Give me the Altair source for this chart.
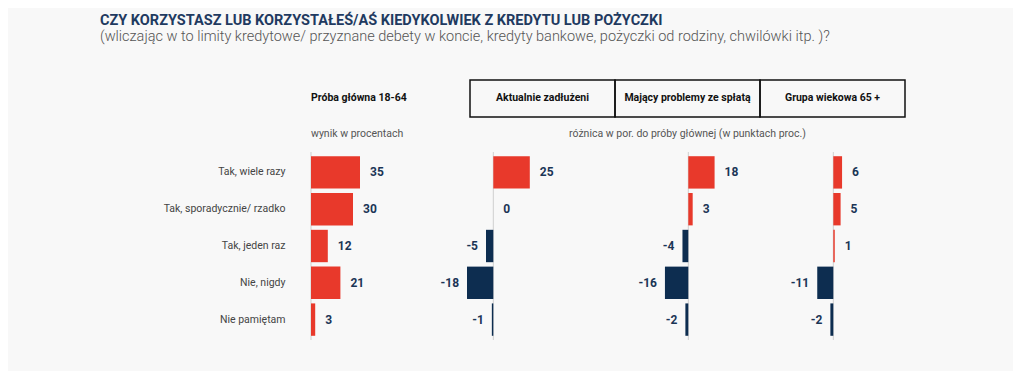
import altair as alt
import pandas as pd

categories = ["Tak, wiele razy", "Tak, sporadycznie/ rzadko", "Tak, jeden raz", "Nie, nigdy", "Nie pamiętam"]
main_values = [35, 30, 12, 21, 3]
debt_diff = [25, 0, -5, -18, -1]
problem_diff = [18, 3, -4, -16, -2]
age65_diff = [6, 5, 1, -11, -2]

title_text = "CZY KORZYSTASZ LUB KORZYSTAŁEŚ/AŚ KIEDYKOLWIEK Z KREDYTU LUB POŻYCZKI"
subtitle_text = ("(wliczając w to limity kredytowe/ przyznane debety w koncie, kredyty bankowe, "
                 "pożyczki od rodziny, chwilówki itp. )?")
panel_titles = ["Próba główna 18-64", "Aktualnie zadłużeni", "Mający problemy ze spłatą", "Grupa wiekowa 65 +"]
left_note = "wynik w procentach"
diff_note = "różnica w por. do próby głównej (w punktach proc.)"

RED = "#e8392b"
NAVY = "#0d2d50"
LABEL = "#1b3556"
FONT = "Roboto"
H = 184

one = pd.DataFrame({"k": [0]})


def txt(s, x, y, size=10, weight="normal", color="#111111", align="left", baseline="middle"):
    return alt.Chart(one).mark_text(
        text=s, align=align, baseline=baseline, fontSize=size, fontWeight=weight,
        color=color, font=FONT
    ).encode(x=alt.value(x), y=alt.value(y))


def panel(values, domain, width, idx):
    df = pd.DataFrame({"cat": categories, "val": values})
    base = alt.Chart(df).transform_calculate(lbl="'' + datum.val")
    scale = alt.Scale(domain=domain, nice=False, zero=False)
    if idx == 0:
        yaxis = alt.Axis(title=None, domain=False, ticks=False, labelPadding=26,
                         labelFontSize=10.5, labelColor="#444444", labelFont=FONT, labelLimit=300)
    else:
        yaxis = None
    y = alt.Y("cat:N", sort=categories,
              scale=alt.Scale(paddingInner=0.12, paddingOuter=0.06), axis=yaxis)
    x = alt.X("val:Q", scale=scale, axis=None)
    bars = base.mark_bar().encode(
        x=x, x2=alt.datum(0), y=y,
        color=alt.condition(alt.datum.val >= 0, alt.value(RED), alt.value(NAVY)),
    )
    pos = base.transform_filter(alt.datum.val >= 0).mark_text(
        align="left", baseline="middle", dx=10, fontSize=12, fontWeight="bold", color=LABEL, font=FONT
    ).encode(x=x, y=y, text="lbl:N")
    neg = base.transform_filter(alt.datum.val < 0).mark_text(
        align="right", baseline="middle", dx=-8, fontSize=12, fontWeight="bold", color=LABEL, font=FONT
    ).encode(x=x, y=y, text="lbl:N")
    rule = alt.Chart(one).mark_rule(color="#cfcfcf", strokeWidth=1).encode(
        x=alt.X(datum=0, type="quantitative", scale=scale, axis=None),
        y=alt.value(-2), y2=alt.value(H + 2),
    )
    layers = [rule, bars, pos, neg]
    if idx == 0:
        layers += [
            txt(title_text, -211, -140, size=14.5, weight="bold", color="#1f3a60", baseline="top"),
            txt(subtitle_text, -211, -124, size=14.5, weight=300, color="#555555", baseline="top"),
            txt(panel_titles[0], 0, -56, size=10.5, weight="bold"),
            txt(left_note, 0, -20, size=10.5, color="#555555"),
        ]
    else:
        box = alt.Chart(one).mark_rect(fill="transparent", stroke="#111111", strokeWidth=1.5).encode(
            x=alt.value(0), x2=alt.value(width), y=alt.value(-74), y2=alt.value(-37)
        )
        layers += [box, txt(panel_titles[idx], width / 2, -56, size=10.5, weight="bold", align="center")]
        if idx == 2:
            layers.append(txt(diff_note, width / 2, -20, size=10.5, color="#555555", align="center"))
    return alt.layer(*layers).properties(width=width, height=H)


p1 = panel(main_values, [0, 113.57], 159, 0)
p2 = panel(debt_diff, [-15.96, 83.35], 145, 1)
p3 = panel(problem_diff, [-50.2, 49.1], 145, 2)
p4 = panel(age65_diff, [-50.2, 49.1], 145, 3)

chart = alt.hconcat(p1, p2, p3, p4, spacing=0, bounds="flush").properties(
    padding={"left": 92, "top": 5, "right": 107, "bottom": 30},
    background="#f8f8f8",
).configure(font=FONT, view=alt.ViewConfig(stroke=None))

chart.save("out.html", embed_options={"renderer": "svg", "actions": False})
